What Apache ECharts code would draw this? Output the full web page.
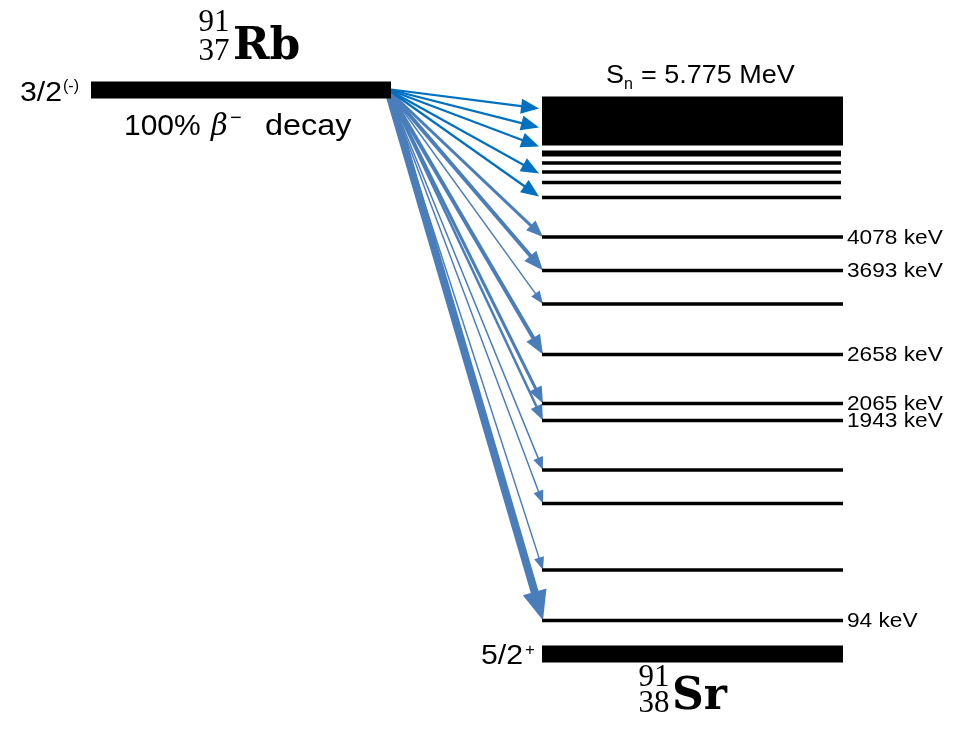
<!DOCTYPE html>
<html>
<head>
<meta charset="utf-8">
<script src="https://cdn.jsdelivr.net/npm/echarts@6/dist/echarts.min.js"></script>
<style>
html,body{margin:0;padding:0;background:#fff;}
#chart{width:961px;height:730px;}
</style>
</head>
<body>
<div id="chart"></div>
<script>
// ---------------- data (schematic level heights above the 91Sr ground state, diagram units) ----------------
const levelLabels   = ['94 keV', '', '', '', '1943 keV', '2065 keV', '2658 keV', '', '3693 keV', '4078 keV'];
const levelHeights  = [33.5, 84, 150.5, 184, 233.5, 250.5, 299.5, 350, 383.5, 417];
const levelFeeding  = [8, 1.5, 1.5, 1.5, 2.5, 3, 4, 1.5, 4, 3];   // relative beta feeding (arrow weight)
const highLevelHeights = [456.5, 471.5, 482, 491, 500.5];
const continuumRange   = [508.5, 557.5];
const highFeedTargets  = [457.5, 480.5, 507.5, 526.5, 545.5];
const parentHeight  = 564;
const groundHeight  = 0;
const parentSpin    = ['3/2', '(-)'];
const groundSpin    = ['5/2', '+'];
const parentNuclide = ['91', '37', 'Rb'];
const daughterNuclide = ['91', '38', 'Sr'];
const decayText     = ['100%', 'β', '−', 'decay'];
const snText        = ['S', 'n', '= 5.775 MeV'];

// ---------------- layout / style ----------------
const PARENT_X = [91, 391];
const DAUGHTER_X = [542, 843];
const STEEL = '#4a7ebb';
const BRIGHT = '#0070c0';
const SANS = 'Liberation Sans, Arial, Helvetica, sans-serif';
const SERIF = 'Liberation Serif, Times New Roman, serif';
const SERIF_B = 'DejaVu Serif, serif';
const SX = 1.08;

function arrow(s, e, w, color, L, W) {
  const dx = e[0] - s[0], dy = e[1] - s[1];
  const len = Math.hypot(dx, dy);
  const ux = dx / len, uy = dy / len, px = -uy, py = ux;
  const bx = e[0] - ux * L, by = e[1] - uy * L;
  return {
    type: 'group',
    children: [
      { type: 'line', shape: { x1: s[0], y1: s[1], x2: bx + ux * 2, y2: by + uy * 2 },
        style: { stroke: color, lineWidth: w, lineCap: 'butt' } },
      { type: 'polygon', shape: { points: [[e[0], e[1]], [bx + px * W / 2, by + py * W / 2], [bx - px * W / 2, by - py * W / 2]] },
        style: { fill: color } }
    ]
  };
}

function txt(text, x, y, size, o) {
  o = o || {};
  const al = o.align || 'left';
  const va = o.va || 'middle';
  return {
    type: 'text', x: x, y: y, scaleX: o.sx || 1, z: 20, silent: true,
    style: {
      text: text, fill: '#000',
      fontSize: size, fontFamily: o.family || SANS,
      fontWeight: o.weight || 'normal', fontStyle: o.style || 'normal',
      align: al, textAlign: al, verticalAlign: va, textVerticalAlign: va
    }
  };
}

const chart = echarts.init(document.getElementById('chart'), null, { renderer: 'canvas' });

const option = {
  backgroundColor: '#ffffff',
  animation: false,
  grid: { left: 0, right: 0, top: 54, bottom: 76, containLabel: false },
  xAxis: { type: 'value', min: 0, max: 961, show: false },
  yAxis: { type: 'value', min: 0, max: 600, show: false },
  series: [
    // steel-blue feeding arrows to discrete levels
    {
      type: 'custom', name: 'feeding', z: 2, silent: true,
      data: levelHeights.map((h, i) => [i, h, levelFeeding[i]]),
      renderItem: function (params, api) {
        const h = api.value(1), w = api.value(2);
        const s = api.coord([PARENT_X[1] - 3, parentHeight]);
        const e = api.coord([DAUGHTER_X[0] + 1, h]);
        return arrow(s, e, w, STEEL, 9 + 2.6 * w, 7 + 2.2 * w);
      }
    },
    // bright blue arrows into the high-lying region
    {
      type: 'custom', name: 'highFeeding', z: 3, silent: true,
      data: highFeedTargets.map((h, i) => [i, h]),
      renderItem: function (params, api) {
        const s = api.coord([PARENT_X[1] - 4, parentHeight + 1]);
        const e = api.coord([DAUGHTER_X[0] - 3, api.value(1)]);
        return arrow(s, e, 2.2, BRIGHT, 18, 15);
      }
    },
    // discrete levels with labels
    {
      type: 'custom', name: 'levels', z: 5, silent: true,
      data: levelHeights.map((h, i) => [i, h]),
      renderItem: function (params, api) {
        const h = api.value(1);
        const p1 = api.coord([DAUGHTER_X[0], h]);
        const p2 = api.coord([DAUGHTER_X[1], h]);
        const children = [
          { type: 'line', shape: { x1: p1[0], y1: p1[1], x2: p2[0], y2: p2[1] },
            style: { stroke: '#000', lineWidth: 3.5 } }
        ];
        const lab = levelLabels[params.dataIndex];
        if (lab) children.push(txt(lab, p2[0] + 4, p1[1] + 1, 21, { sx: SX }));
        return { type: 'group', children: children };
      }
    },
    // high lying levels
    {
      type: 'custom', name: 'highLevels', z: 5, silent: true,
      data: highLevelHeights.map((h, i) => [i, h]),
      renderItem: function (params, api) {
        const h = api.value(1);
        const p1 = api.coord([DAUGHTER_X[0], h]);
        const p2 = api.coord([DAUGHTER_X[1] - 2, h]);
        const lw = params.dataIndex === highLevelHeights.length - 1 ? 6 : 3.5;
        return { type: 'line', shape: { x1: p1[0], y1: p1[1], x2: p2[0], y2: p2[1] },
          style: { stroke: '#000', lineWidth: lw } };
      }
    },
    // quasi-continuum block below S_n
    {
      type: 'custom', name: 'continuum', z: 5, silent: true,
      data: [[0, continuumRange[0], continuumRange[1]]],
      renderItem: function (params, api) {
        const a = api.coord([DAUGHTER_X[0], api.value(2)]);
        const b = api.coord([DAUGHTER_X[1], api.value(1)]);
        return { type: 'rect', shape: { x: a[0], y: a[1], width: b[0] - a[0], height: b[1] - a[1] },
          style: { fill: '#000' } };
      }
    },
    // parent and ground state bars
    {
      type: 'custom', name: 'states', z: 6, silent: true,
      data: [[0, parentHeight], [1, groundHeight]],
      renderItem: function (params, api) {
        const xr = params.dataIndex === 0 ? PARENT_X : DAUGHTER_X;
        const h = api.value(1);
        const a = api.coord([xr[0], h]);
        const b = api.coord([xr[1], h]);
        return { type: 'rect', shape: { x: a[0], y: a[1] - 8.5, width: b[0] - a[0], height: 17 },
          style: { fill: '#000' } };
      }
    }
  ],
  graphic: [
    // parent nuclide
    txt(parentNuclide[0], 214, 23, 31, { family: SERIF, align: 'center' }),
    txt(parentNuclide[1], 214, 52, 31, { family: SERIF, align: 'center' }),
    txt(parentNuclide[2], 233, 48, 44, { family: SERIF_B, weight: 'bold' }),
    // daughter nuclide
    txt(daughterNuclide[0], 654, 678, 31, { family: SERIF, align: 'center' }),
    txt(daughterNuclide[1], 654, 704, 31, { family: SERIF, align: 'center' }),
    txt(daughterNuclide[2], 672, 698, 44, { family: SERIF_B, weight: 'bold' }),
    // spins
    txt(parentSpin[0], 62, 93, 28, { align: 'right', sx: SX }),
    txt(parentSpin[1], 63, 87, 16),
    txt(groundSpin[0], 523, 656, 28, { align: 'right', sx: SX }),
    txt(groundSpin[1], 525, 650, 17),
    // decay mode
    txt(decayText[0], 124, 127, 30),
    txt(decayText[1], 211, 127, 29, { family: 'DejaVu Serif, serif', style: 'italic' }),
    txt(decayText[2], 230, 118, 20),
    txt(decayText[3], 265, 127, 30, { sx: SX }),
    // neutron separation energy
    txt(snText[0], 606, 76, 25, { sx: SX }),
    txt(snText[1], 624, 85, 16),
    txt(snText[2], 641, 76, 25, { sx: SX })
  ]
};

chart.setOption(option);
</script>
</body>
</html>
